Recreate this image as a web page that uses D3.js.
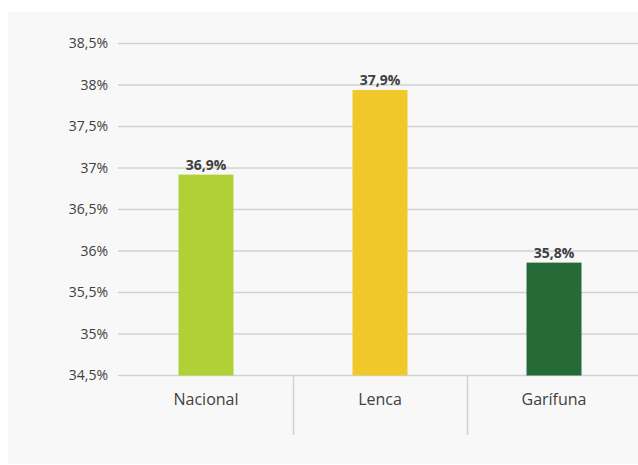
<!DOCTYPE html>
<html>
<head>
<meta charset="utf-8">
<script src="https://cdn.jsdelivr.net/npm/d3@7"></script>
<style>
  body { margin: 0; background: #fff; }
  text { font-family: "Open Sans", "Noto Sans", sans-serif; fill: #404040; }
</style>
</head>
<body>
<div id="chart"></div>
<script>
const categories = ['Nacional', 'Lenca', 'Garífuna'];
const values = [36.92, 37.94, 35.86];
const valueLabels = ['36,9%', '37,9%', '35,8%'];
const colors = ['#b0d136', '#f0c82a', '#266b37'];
const yTicks = [34.5, 35, 35.5, 36, 36.5, 37, 37.5, 38, 38.5];

const width = 638;
const height = 465;

const svg = d3.select('#chart')
  .append('svg')
  .attr('width', width)
  .attr('height', height);

// panel background
svg.append('rect')
  .attr('x', 8)
  .attr('y', 12)
  .attr('width', width - 8)
  .attr('height', 452)
  .attr('fill', '#f8f8f8');

const y = d3.scaleLinear()
  .domain([34.5, 38.5])
  .range([375.5, 43.5]);

const x = d3.scaleBand()
  .domain(categories)
  .range([119, 641])
  .paddingInner(0)
  .paddingOuter(0);

const barWidth = 55;

const fmt = v => String(v).replace('.', ',') + '%';

// gridlines
svg.append('g')
  .selectAll('line')
  .data(yTicks)
  .enter()
  .append('line')
  .attr('x1', 118)
  .attr('x2', width)
  .attr('y1', d => y(d))
  .attr('y2', d => y(d))
  .attr('stroke', '#d2d2d2')
  .attr('stroke-width', 1.5);

// y axis labels
const yAxis = d3.axisLeft(y)
  .tickValues(yTicks)
  .tickFormat(fmt)
  .tickSize(0)
  .tickPadding(10);

svg.append('g')
  .attr('transform', 'translate(118,0)')
  .call(yAxis)
  .call(g => g.select('.domain').remove())
  .selectAll('text')
  .style('font-size', '14px')
  .style('fill', '#404040')
  .style('font-family', '"Open Sans", "Noto Sans", sans-serif');

// category separators
svg.append('g')
  .selectAll('line')
  .data(categories.slice(1))
  .enter()
  .append('line')
  .attr('x1', d => Math.round(x(d)) + 0.5)
  .attr('x2', d => Math.round(x(d)) + 0.5)
  .attr('y1', y(34.5))
  .attr('y2', 435)
  .attr('stroke', '#d2d2d2')
  .attr('stroke-width', 1.5);

// bars
svg.append('g')
  .selectAll('rect')
  .data(values)
  .enter()
  .append('rect')
  .attr('x', (d, i) => x(categories[i]) + x.bandwidth() / 2 - barWidth / 2)
  .attr('y', d => y(d))
  .attr('width', barWidth)
  .attr('height', d => y(34.5) - y(d))
  .attr('fill', (d, i) => colors[i]);

// value labels
svg.append('g')
  .selectAll('text')
  .data(values)
  .enter()
  .append('text')
  .attr('x', (d, i) => x(categories[i]) + x.bandwidth() / 2)
  .attr('y', d => y(d) - 5)
  .attr('text-anchor', 'middle')
  .style('font-size', '14px')
  .style('font-weight', 'bold')
  .text((d, i) => valueLabels[i]);

// category labels
svg.append('g')
  .selectAll('text')
  .data(categories)
  .enter()
  .append('text')
  .attr('x', d => x(d) + x.bandwidth() / 2)
  .attr('y', 405)
  .attr('text-anchor', 'middle')
  .style('font-size', '16px')
  .text(d => d);
</script>
</body>
</html>
